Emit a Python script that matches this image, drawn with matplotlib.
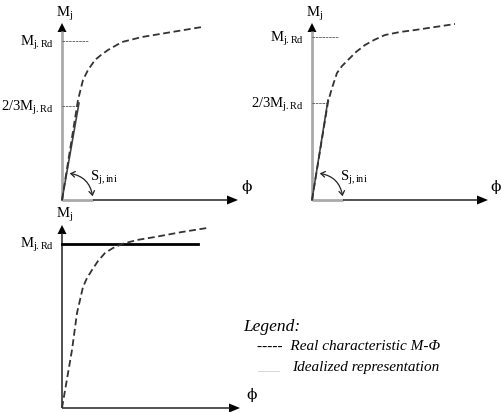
import matplotlib
matplotlib.use("Agg")
import matplotlib.pyplot as plt
from matplotlib.patches import FancyArrowPatch

plt.rcParams['font.family'] = ['Liberation Serif', 'DejaVu Serif']
plt.rcParams['mathtext.fontset'] = 'custom'
plt.rcParams['mathtext.rm'] = 'Liberation Serif'
plt.rcParams['mathtext.it'] = 'Liberation Serif:italic'

# moment-rotation curves, in pixel units from each panel origin
phi_1 = [0, 16, 21, 26, 33, 39, 46, 53, 60, 68, 80, 110, 140]
m_1 = [0, 100, 120, 130, 140, 145, 150, 154, 158, 160, 163, 168, 173]

phi_2 = [0, 16, 20, 25, 30, 36, 44, 53, 62, 73, 88, 103, 143]
m_2 = [0, 98, 112, 127, 134, 140, 148, 155, 160, 165, 168, 170, 176]

phi_3 = [0, 10, 15, 18, 21, 25, 30, 36, 43, 51, 60, 75, 93, 120, 145]
m_3 = [0, 58, 95, 108, 121, 130, 138, 147, 155, 160, 164, 168, 171, 176, 180]

# resistance levels and initial stiffness end points
m_rd = [159, 163, 164]
m_two_thirds = [94, 97]
phi_el = [16, 15]

W, H = 502, 412
fig = plt.figure(figsize=(W / 100, H / 100), dpi=100)


def panel(x0, y0):
    ax = fig.add_axes([0, 0, 1, 1])
    ax.set_xlim(-x0, W - x0)
    ax.set_ylim(y0 - H, y0)
    ax.axis('off')
    ax.patch.set_alpha(0)
    return ax


def axes_arrows(ax, xend, ytop, col_y, col_x, lw_y, lw_x, gray_x=0):
    ax.plot([0, 0], [0, ytop - 8], color=col_y, lw=lw_y, solid_capstyle='butt')
    ax.fill([-4.5, 4.5, 0], [ytop - 9, ytop - 9, ytop], color='black', lw=0)
    if gray_x:
        ax.plot([0, gray_x], [0, 0], color=col_y, lw=lw_y, solid_capstyle='butt')
    ax.plot([gray_x, xend - 10], [0, 0], color=col_x, lw=lw_x, solid_capstyle='butt')
    ax.fill([xend - 11, xend - 11, xend], [-4.5, 4.5, 0], color='black', lw=0)


def stiffness_arc(ax):
    arc = FancyArrowPatch((5, 27), (31, 1), connectionstyle='arc3,rad=-0.4',
                          arrowstyle='<->,head_length=3,head_width=2',
                          color='#222222', lw=0.9)
    ax.add_patch(arc)
    ax.text(28, 22, r'S$_{\mathrm{j,ini}}$', fontsize=10.5, ha='left', va='center')


dash = dict(color='#333333', lw=1.3, dashes=(3.8, 2))
tick = dict(color='#555555', lw=0.6, dashes=(3, 1))

# first two panels: curve with initial stiffness line
for x0, phi, m, mr, m23, pe, phx in [(62, phi_1, m_1, m_rd[0], m_two_thirds[0], phi_el[0], 185),
                                     (312, phi_2, m_2, m_rd[1], m_two_thirds[1], phi_el[1], 184)]:
    ax = panel(x0, 200)
    axes_arrows(ax, 176, 177, '#aaaaaa', '#222222', 2.0, 1.1, gray_x=31)
    ax.plot([0, 26], [mr, mr], **tick)
    ax.plot([0, pe], [m23, m23], **tick)
    ax.plot([0, pe + 1], [0, m23 + 3], color='#444444', lw=1.2)
    ax.plot(phi, m, **dash)
    stiffness_arc(ax)
    ax.text(3, 186, r'M$_{\mathrm{j}}$', fontsize=10.5, ha='center', va='center')
    ax.text(-8, mr - 2, r'M$_{\mathrm{j.Rd}}$', fontsize=10.5, ha='right', va='center')
    ax.text(-8, m23 - 2, r'2/3M$_{\mathrm{j.Rd}}$', fontsize=10.5, ha='right', va='center')
    ax.text(phx, 13, 'ϕ', fontsize=11, ha='center', va='center', family=['DejaVu Serif'])

# third panel: idealised plastic level
ax = panel(62, 408)
axes_arrows(ax, 178, 183, '#222222', '#222222', 1.1, 1.1)
ax.plot([0, 136], [m_rd[2], m_rd[2]], color='black', lw=2.0)
ax.plot(phi_3, m_3, **dash)
ax.text(3, 193, r'M$_{\mathrm{j}}$', fontsize=10.5, ha='center', va='center')
ax.text(-8, m_rd[2] - 1, r'M$_{\mathrm{j.Rd}}$', fontsize=10.5, ha='right', va='center')
ax.text(190, 13, 'ϕ', fontsize=11, ha='center', va='center', family=['DejaVu Serif'])

# legend text
fig.text(243 / W, 1 - 327 / H, 'Legend:', fontsize=12.5, style='italic', va='center')
fig.text(257 / W, 1 - 347 / H, '-----  Real characteristic M-Φ', fontsize=11,
         style='italic', va='center')
fig.text(257 / W, 1 - 367 / H, '___', fontsize=11, color='#cccccc', va='center')
fig.text(292 / W, 1 - 367 / H, 'Idealized representation', fontsize=11,
         style='italic', va='center')

fig.savefig('out.png', dpi=100)
